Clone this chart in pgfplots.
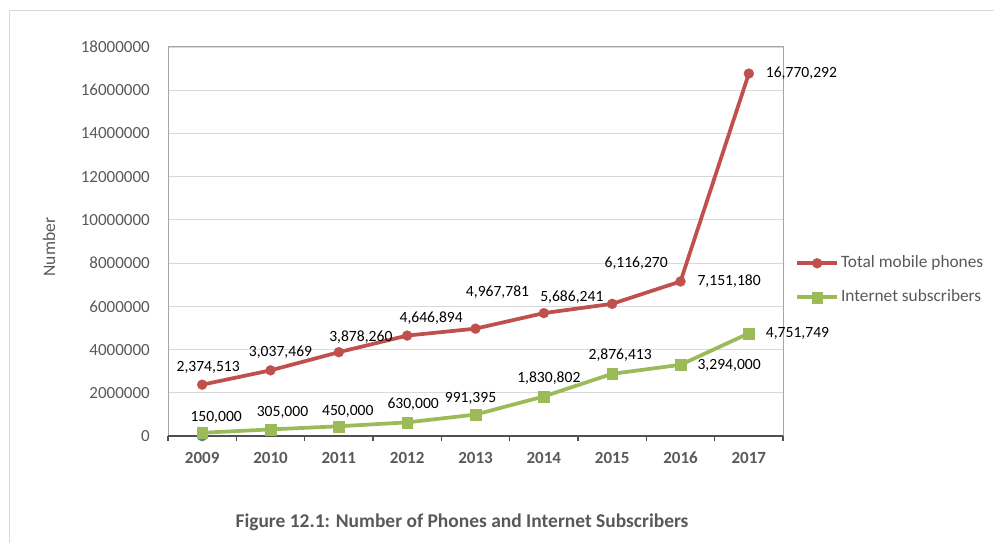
\documentclass[border=0pt]{standalone}
\usepackage{pgfplots}
\pgfplotsset{compat=1.18}
\usepackage{fontspec}
\setmainfont{Carlito}

\definecolor{txtgray}{HTML}{595959}
\definecolor{gridgray}{HTML}{D9D9D9}
\definecolor{boxgray}{HTML}{A6A6A6}
\definecolor{axdark}{HTML}{505050}
\definecolor{mred}{HTML}{C0504D}
\definecolor{igreen}{HTML}{9BBB59}
\definecolor{dblue}{HTML}{4F81BD}

\pgfplotsset{
  mobstyle/.style={color=mred, line width=2.8pt, mark=*, mark size=3.8pt,
    mark options={solid, fill=mred, draw=mred, line width=0.1pt}},
  intstyle/.style={color=igreen, line width=2.8pt, mark=square*, mark size=4pt,
    mark options={solid, fill=igreen, draw=igreen, line width=0.1pt}},
}

\begin{document}
\begin{tikzpicture}
\useasboundingbox (0,0) rectangle (745.5pt,406.5pt);
\draw[gridgray, line width=0.75pt] (7pt,-2pt) -- (7pt,398.5pt) -- (748pt,398.5pt);

\begin{axis}[
  at={(126pt,79.5pt)}, anchor=south west,
  scale only axis, width=461.25pt, height=291.75pt,
  xmin=2008.5, xmax=2017.5, ymin=0, ymax=18000000,
  xtick={2009,2010,2011,2012,2013,2014,2015,2016,2017},
  xticklabels={2009,2010,2011,2012,2013,2014,2015,2016,2017},
  minor xtick={2008.5,2009.5,2010.5,2011.5,2012.5,2013.5,2014.5,2015.5,2016.5,2017.5},
  ytick={0,2000000,4000000,6000000,8000000,10000000,12000000,14000000,16000000,18000000},
  yticklabels={0,2000000,4000000,6000000,8000000,10000000,12000000,14000000,16000000,18000000},
  scaled y ticks=false,
  ymajorgrids, major grid style={draw=gridgray, line width=0.9pt},
  major tick length=0pt, minor tick length=3.75pt, tick align=outside,
  xtick pos=lower, ytick pos=lower,
  minor tick style={draw=axdark, line width=1pt},
  axis line style={draw=boxgray, line width=0.75pt},
  yticklabel style={font=\fontsize{12.75}{14}\selectfont, text=txtgray, anchor=east, inner sep=0pt},
  yticklabel shift=13.5pt,
  xticklabel style={font=\bfseries\fontsize{12.75}{14}\selectfont, text=txtgray, anchor=base, inner sep=0pt},
  xticklabel shift=20.6pt,
  clip=false,
  legend image code/.code={
    \draw[#1, mark repeat=2, mark phase=2] plot coordinates {(0pt,0pt) (15pt,0pt) (30pt,0pt)};},
  legend style={at={(rel axis cs:1.0195,0.4704)}, anchor=north west,
    draw=none, fill=none, inner sep=0pt, row sep=10.5pt,
    font=\fontsize{13}{15}\selectfont, text=txtgray,
    nodes={inner sep=1.5pt, text height=9pt, text depth=3pt}},
  legend cell align=left,
]
\draw[axdark, line width=1.6pt] (rel axis cs:0,0) -- (rel axis cs:1,0);

\addplot[only marks, mark=*, mark size=3.8pt, color=dblue, forget plot]
  coordinates {(2009,0)};

% label offsets dx, dy are in pixels of the reference
\addplot[mobstyle, forget plot,
  nodes near coords, point meta=explicit symbolic,
  visualization depends on={\thisrow{dx}\as\mydx},
  visualization depends on={\thisrow{dy}\as\mydy},
  visualization depends on={value \thisrow{anc}\as\myanchor},
  every node near coord/.append style={anchor=\myanchor, inner sep=0pt,
    text=black, font=\fontsize{11.7}{13}\selectfont,
    xshift=0.75*\mydx pt, yshift=0.75*\mydy pt}]
  table[meta=lbl] {
x    y        lbl        dx  dy  anc
2009 2374513  2,374,513  6   17  center
2010 3037469  3,037,469  10  18  center
2011 3878260  3,878,260  22  15  center
2012 4646894  4,646,894  24  17  center
2013 4967781  4,967,781  22  36  center
2014 5686241  5,686,241  28  16  center
2015 6116270  6,116,270  24  41  center
2016 7151180  7,151,180  17  0   west
2017 16770292 16,770,292 17  0   west
};

\addplot[intstyle, forget plot,
  nodes near coords, point meta=explicit symbolic,
  visualization depends on={\thisrow{dx}\as\mydx},
  visualization depends on={\thisrow{dy}\as\mydy},
  visualization depends on={value \thisrow{anc}\as\myanchor},
  every node near coord/.append style={anchor=\myanchor, inner sep=0pt,
    text=black, font=\fontsize{11.7}{13}\selectfont,
    xshift=0.75*\mydx pt, yshift=0.75*\mydy pt}]
  table[meta=lbl] {
x    y       lbl        dx  dy  anc
2009 150000  150,000    14  15  center
2010 305000  305,000    12  17  center
2011 450000  450,000    9   15  center
2012 630000  630,000    6   18  center
2013 991395  991,395    -5  16  center
2014 1830802 1,830,802  5   18  center
2015 2876413 2,876,413  8   19  center
2016 3294000 3,294,000  17  -1  west
2017 4751749 4,751,749  17  0   west
};

\addlegendimage{mobstyle}
\addlegendentry{Total mobile phones}
\addlegendimage{intstyle}
\addlegendentry{Internet subscribers}
\end{axis}

\node[rotate=90, text=txtgray, font=\fontsize{13.2}{15}\selectfont, inner sep=0pt]
  at (36.75pt,221.25pt) {Number};
\node[text=txtgray, font=\bfseries\fontsize{14.6}{17}\selectfont, inner sep=0pt]
  at (346.5pt,15pt) {Figure 12.1: Number of Phones and Internet Subscribers};
\end{tikzpicture}
\end{document}
